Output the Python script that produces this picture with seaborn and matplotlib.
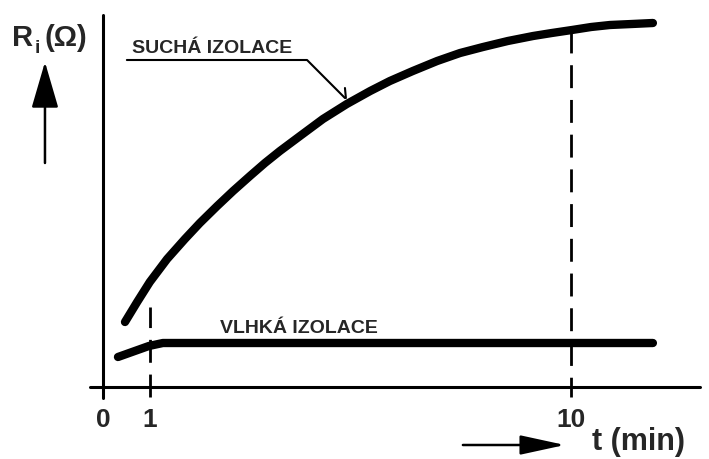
import matplotlib
matplotlib.use('agg')
from matplotlib import pyplot as plt
import pandas as pd
import seaborn as sns

# time in minutes, insulation resistance in arbitrary units
dry_t = [0.47, 0.73, 1.00, 1.37, 1.75, 2.07, 2.44, 2.78, 3.14, 3.46, 3.78, 4.21, 4.70, 5.21,
         5.71, 6.13, 6.62, 7.14, 7.63, 8.12, 8.65, 9.19, 9.59, 10.02, 10.43, 10.83, 11.30, 11.75]
dry_r = [6.5, 8.5, 10.5, 12.8, 14.8, 16.4, 18.1, 19.6, 21.1, 22.4, 23.6, 25.1, 26.8, 28.3,
         29.6, 30.6, 31.6, 32.6, 33.4, 34.0, 34.6, 35.1, 35.4, 35.7, 36.0, 36.2, 36.3, 36.4]
wet_t = [0.32, 0.98, 1.28, 11.75]
wet_r = [3.0, 4.1, 4.4, 4.4]

tick_t = [0, 1, 10]
tick_labels = ['0', '1', '10']
dry_label = 'SUCHÁ IZOLACE'
wet_label = 'VLHKÁ IZOLACE'

sns.set_theme(style='white')
plt.rcParams['font.family'] = ['Liberation Sans', 'DejaVu Sans']
plt.rcParams['lines.scale_dashes'] = False

fig = plt.figure(figsize=(7.09, 4.59), dpi=100)
ax = fig.add_axes([0, 0, 1, 1])
ax.set_xlim(-103 / 46.8, (709 - 103) / 46.8)
ax.set_ylim(-7.2, 38.7)
ax.axis('off')

dry = pd.DataFrame({'t': dry_t, 'r': dry_r})
wet = pd.DataFrame({'t': wet_t, 'r': wet_r})
sns.lineplot(data=dry, x='t', y='r', sort=False, color='black', lw=6.0,
             solid_capstyle='round', solid_joinstyle='round', ax=ax)
sns.lineplot(data=wet, x='t', y='r', sort=False, color='black', lw=6.0,
             solid_capstyle='round', solid_joinstyle='round', ax=ax)

# axes drawn by hand, they cross each other
ax.plot([0, 0], [-1.1, 37.2], color='black', lw=2.2)
ax.plot([-0.28, 12.76], [0, 0], color='black', lw=2.2)

# dashed guides at t = 1 and t = 10
ax.plot([1, 1], [-1.0, 8.0], color='black', lw=2.0, dashes=(16.5, 8.5))
ax.plot([10, 10], [35.7, -1.0], color='black', lw=2.0, dashes=(16.5, 8.5))

for t, lab in zip(tick_t, tick_labels):
    ax.text(t, -4.0, lab, ha='center', va='baseline', fontsize=19, fontweight='bold')

# leader line for the dry curve
ax.plot([0.51, 4.36, 5.17], [32.7, 32.7, 28.9], color='black', lw=1.5)
ax.plot([5.17, 5.19], [29.9, 28.9], color='black', lw=1.5)
ax.text(0.62, 33.4, dry_label, ha='left', va='baseline', fontsize=14, fontweight='bold')
ax.text(2.5, 5.4, wet_label, ha='left', va='baseline', fontsize=14, fontweight='bold')

# axis arrows and titles
ax.annotate('', xy=(-1.24, 32.5), xytext=(-1.24, 22.4),
            arrowprops=dict(arrowstyle='-|>,head_length=2.4,head_width=0.7',
                            color='black', lw=1.8, shrinkA=0, shrinkB=0))
ax.annotate('', xy=(9.87, -5.8), xytext=(7.69, -5.8),
            arrowprops=dict(arrowstyle='-|>,head_length=2.3,head_width=0.5',
                            color='black', lw=1.8, shrinkA=0, shrinkB=0))
ax.text(10.45, -6.3, 't (min)', ha='left', va='baseline', fontsize=22, fontweight='bold')
ax.text(-1.94, 34.1, 'R', ha='left', va='baseline', fontsize=21, fontweight='bold')
ax.text(-1.47, 33.4, 'i', ha='left', va='baseline', fontsize=14, fontweight='bold')
ax.text(-1.25, 34.1, '(Ω)', ha='left', va='baseline', fontsize=21, fontweight='bold')

plt.savefig('out.png', dpi=100)
plt.close()
